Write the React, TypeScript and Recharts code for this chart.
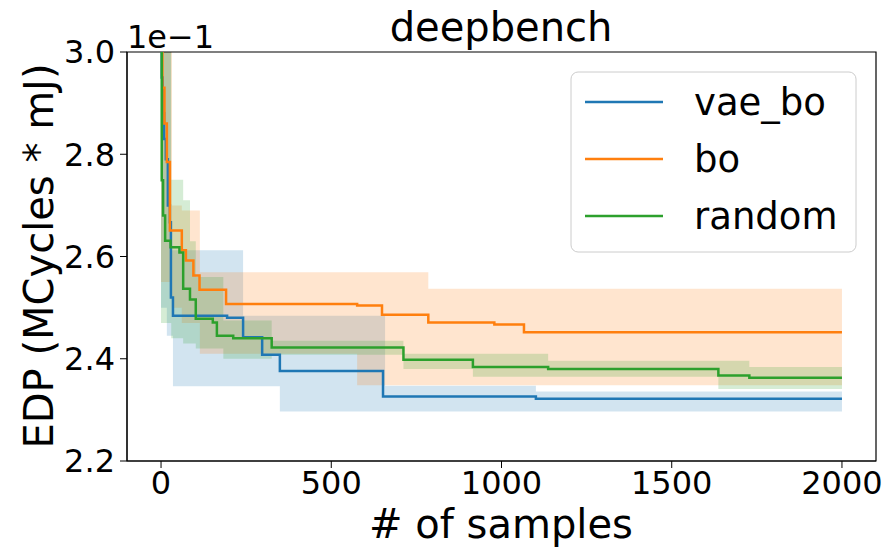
import {
  ComposedChart,
  Line,
  Area,
  XAxis,
  YAxis,
  ReferenceArea,
} from "recharts";

const seriesNames = ["vae_bo", "bo", "random"];
const COLORS = ["#1f77b4", "#ff7f0e", "#2ca02c"];

const xTicks = [0, 500, 1000, 1500, 2000];
const yTicks = [2.2, 2.4, 2.6, 2.8, 3.0];

// vae_bo: best EDP so far (x1e-1) and its spread
const vaeBoSteps = [0, 2, 5, 9, 14, 20, 26, 29, 35, 194, 241, 297, 349, 652, 1101, 2000];
const vaeBoBest = [3.3, 2.95, 2.88, 2.83, 2.79, 2.7, 2.667, 2.52, 2.484, 2.48, 2.442, 2.408, 2.376, 2.326, 2.322, 2.322];
const vaeBoBandSteps = [0, 17, 29, 35, 241, 349, 658, 1101, 2000];
const vaeBoLow = [2.5, 2.445, 2.445, 2.346, 2.346, 2.297, 2.297, 2.297, 2.297];
const vaeBoHigh = [3.4, 3.1, 2.612, 2.612, 2.484, 2.484, 2.347, 2.336, 2.336];

// bo
const boSteps = [0, 4, 10, 17, 26, 61, 73, 95, 113, 191, 576, 649, 785, 979, 1066, 2000];
const boBest = [3.4, 2.93, 2.86, 2.785, 2.651, 2.612, 2.592, 2.563, 2.535, 2.507, 2.504, 2.486, 2.471, 2.467, 2.452, 2.452];
const boBandSteps = [0, 32, 61, 114, 576, 785, 2000];
const boLow = [2.55, 2.5, 2.47, 2.41, 2.348, 2.348, 2.348];
const boHigh = [3.4, 2.7, 2.69, 2.569, 2.569, 2.537, 2.537];

// random
const randomSteps = [0, 2, 6, 12, 28, 54, 65, 85, 102, 152, 164, 212, 325, 712, 916, 1137, 1637, 1728, 2000];
const randomBest = [3.3, 2.749, 2.68, 2.631, 2.618, 2.608, 2.537, 2.516, 2.478, 2.471, 2.445, 2.44, 2.422, 2.398, 2.384, 2.38, 2.367, 2.363, 2.363];
const randomBandSteps = [0, 30, 65, 85, 102, 183, 325, 712, 916, 1137, 1637, 1728, 2000];
const randomLow = [2.47, 2.44, 2.43, 2.43, 2.42, 2.4, 2.408, 2.38, 2.365, 2.365, 2.341, 2.341, 2.341];
const randomHigh = [3.3, 2.75, 2.71, 2.63, 2.56, 2.475, 2.435, 2.41, 2.41, 2.396, 2.396, 2.384, 2.384];

const toLine = (xs: number[], ys: number[]) => xs.map((x, i) => ({ x, y: ys[i] }));
const toBand = (xs: number[], lo: number[], hi: number[]) =>
  xs.map((x, i) => ({ x, range: [lo[i], hi[i]] }));

const lines = [
  toLine(vaeBoSteps, vaeBoBest),
  toLine(boSteps, boBest),
  toLine(randomSteps, randomBest),
];
const bands = [
  toBand(vaeBoBandSteps, vaeBoLow, vaeBoHigh),
  toBand(boBandSteps, boLow, boHigh),
  toBand(randomBandSteps, randomLow, randomHigh),
];

const FONT = "DejaVu Sans";

export default function App() {
  return (
    <div style={{ position: "absolute", left: 0, top: 0, background: "#fff" }}>
      <ComposedChart
        width={890}
        height={551}
        margin={{ top: 52, right: 14, bottom: 0, left: 0 }}
        style={{ fontFamily: FONT }}
      >
        <XAxis
          dataKey="x"
          type="number"
          domain={[-100, 2100]}
          ticks={xTicks}
          allowDataOverflow
          height={90}
          tickSize={7}
          tickMargin={3}
          stroke="#000"
          tick={{ fontSize: 32, fill: "#000", fontFamily: FONT }}
        />
        <YAxis
          type="number"
          domain={[2.2, 3.0]}
          ticks={yTicks}
          allowDataOverflow
          width={127}
          tickSize={7}
          tickMargin={5}
          stroke="#000"
          tickFormatter={(v: number) => v.toFixed(1)}
          tick={{ fontSize: 32, fill: "#000", fontFamily: FONT }}
        />
        {bands.map((d, i) => (
          <Area
            key={`band-${i}`}
            data={d}
            dataKey="range"
            type="stepAfter"
            fill={COLORS[i]}
            fillOpacity={0.2}
            stroke="none"
            isAnimationActive={false}
          />
        ))}
        {lines.map((d, i) => (
          <Line
            key={`line-${i}`}
            data={d}
            dataKey="y"
            type="stepAfter"
            stroke={COLORS[i]}
            strokeWidth={2.5}
            dot={false}
            isAnimationActive={false}
          />
        ))}
        <ReferenceArea
          x1={-100}
          x2={2100}
          y1={2.2}
          y2={3.0}
          fill="none"
          stroke="#000"
          strokeWidth={1.2}
          ifOverflow="visible"
        />
        <text x={501} y={41} textAnchor="middle" fontSize={40} fontFamily={FONT} fill="#000">
          deepbench
        </text>
        <text x={127} y={48} textAnchor="start" fontSize={32} fontFamily={FONT} fill="#000">
          1e{"\u2212"}1
        </text>
        <text x={501} y={538} textAnchor="middle" fontSize={40} fontFamily={FONT} fill="#000">
          # of samples
        </text>
        <text
          x={53}
          y={256}
          transform="rotate(-90 53 256)"
          textAnchor="middle"
          fontSize={40}
          fontFamily={FONT}
          fill="#000"
        >
          EDP (MCycles * mJ)
        </text>
        <g>
          <rect x={571} y={72} width={285} height={180} rx={7} fill="#fff" fillOpacity={0.8} stroke="#cccccc" />
          {seriesNames.map((name, i) => (
            <g key={name}>
              <line x1={585} x2={663} y1={102 + i * 57} y2={102 + i * 57} stroke={COLORS[i]} strokeWidth={2.5} />
              <text x={694} y={115 + i * 57} fontSize={37} fontFamily={FONT} fill="#000">
                {name}
              </text>
            </g>
          ))}
        </g>
      </ComposedChart>
    </div>
  );
}
